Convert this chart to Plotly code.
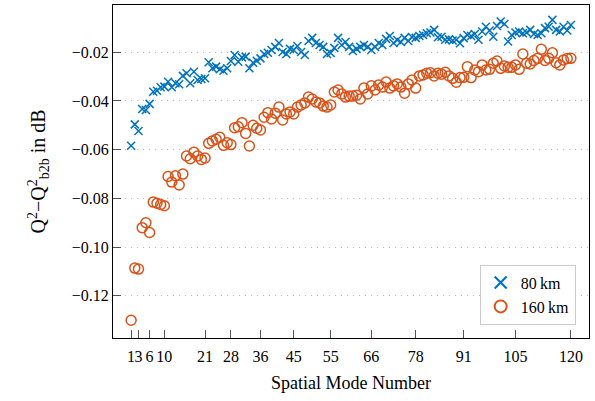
import plotly.graph_objects as go

modes = list(range(1, 121))

q_80km = [
    -0.0584, -0.0496, -0.0523, -0.0433, -0.0437, -0.0412, -0.0362, -0.0358, -0.0344, -0.0341,
    -0.0321, -0.0344, -0.0327, -0.0331, -0.0297, -0.0286, -0.0327, -0.0280, -0.0314, -0.0310,
    -0.0307, -0.0241, -0.0266, -0.0259, -0.0270, -0.0276, -0.0266, -0.0236, -0.0211, -0.0239,
    -0.0221, -0.0218, -0.0266, -0.0243, -0.0235, -0.0225, -0.0207, -0.0202, -0.0191, -0.0178,
    -0.0162, -0.0199, -0.0207, -0.0186, -0.0191, -0.0174, -0.0199, -0.0211, -0.0154, -0.0141,
    -0.0162, -0.0170, -0.0178, -0.0207, -0.0203, -0.0182, -0.0141, -0.0170, -0.0158, -0.0178,
    -0.0195, -0.0186, -0.0178, -0.0170, -0.0178, -0.0191, -0.0178, -0.0162, -0.0170, -0.0145,
    -0.0133, -0.0162, -0.0150, -0.0158, -0.0141, -0.0154, -0.0137, -0.0141, -0.0133, -0.0129,
    -0.0122, -0.0119, -0.0108, -0.0138, -0.0136, -0.0149, -0.0147, -0.0152, -0.0149, -0.0163,
    -0.0142, -0.0129, -0.0133, -0.0125, -0.0149, -0.0115, -0.0095, -0.0111, -0.0136, -0.0092,
    -0.0074, -0.0084, -0.0156, -0.0129, -0.0119, -0.0115, -0.0122, -0.0119, -0.0108, -0.0125,
    -0.0129, -0.0122, -0.0101, -0.0095, -0.0067, -0.0108, -0.0115, -0.0095, -0.0111, -0.0088,
]

q_160km = [
    -0.1300, -0.1086, -0.1090, -0.0920, -0.0900, -0.0940, -0.0815, -0.0820, -0.0825, -0.0830,
    -0.0710, -0.0733, -0.0707, -0.0745, -0.0700, -0.0626, -0.0637, -0.0610, -0.0626, -0.0640,
    -0.0634, -0.0574, -0.0564, -0.0557, -0.0549, -0.0582, -0.0571, -0.0579, -0.0510, -0.0506,
    -0.0489, -0.0533, -0.0585, -0.0500, -0.0512, -0.0519, -0.0467, -0.0448, -0.0474, -0.0450,
    -0.0425, -0.0478, -0.0453, -0.0445, -0.0453, -0.0425, -0.0416, -0.0408, -0.0384, -0.0392,
    -0.0404, -0.0408, -0.0421, -0.0425, -0.0416, -0.0363, -0.0355, -0.0371, -0.0384, -0.0380,
    -0.0380, -0.0376, -0.0392, -0.0347, -0.0371, -0.0338, -0.0355, -0.0334, -0.0343, -0.0322,
    -0.0347, -0.0338, -0.0330, -0.0343, -0.0368, -0.0330, -0.0314, -0.0347, -0.0297, -0.0293,
    -0.0286, -0.0284, -0.0297, -0.0286, -0.0290, -0.0282, -0.0297, -0.0307, -0.0323, -0.0304,
    -0.0303, -0.0259, -0.0304, -0.0273, -0.0280, -0.0252, -0.0273, -0.0270, -0.0245, -0.0236,
    -0.0266, -0.0256, -0.0262, -0.0262, -0.0252, -0.0270, -0.0207, -0.0245, -0.0248, -0.0234,
    -0.0225, -0.0188, -0.0234, -0.0225, -0.0202, -0.0243, -0.0252, -0.0232, -0.0226, -0.0225,
]

x_ticks = [1, 3, 6, 10, 21, 28, 36, 45, 55, 66, 78, 91, 105, 120]
y_ticks = [-0.12, -0.10, -0.08, -0.06, -0.04, -0.02]

BLUE = "#0072BD"
RED = "#D95319"
FONT = "Liberation Serif"

fig = go.Figure()
fig.add_trace(go.Scatter(
    x=modes, y=q_80km, mode="markers", name="80\u2009km",
    marker=dict(symbol="x-thin", size=8, color=BLUE, line=dict(color=BLUE, width=1.5)),
))
fig.add_trace(go.Scatter(
    x=modes, y=q_160km, mode="markers", name="160\u2009km",
    marker=dict(symbol="circle-open", size=10, color=RED, line=dict(color=RED, width=1.5)),
))

fig.update_layout(
    width=595, height=401,
    margin=dict(l=113, r=6, t=5, b=63, autoexpand=False),
    paper_bgcolor="white", plot_bgcolor="white",
    font=dict(family=FONT, size=16, color="black"),
    showlegend=True,
    legend=dict(
        x=0.972, y=0.04, xanchor="right", yanchor="bottom",
        bordercolor="#cccccc", borderwidth=1, bgcolor="white",
        font=dict(family=FONT, size=16),
        itemsizing="constant", itemwidth=30,
        tracegroupgap=4,
    ),
)
fig.update_xaxes(
    range=[-3.9, 124.9], tickvals=x_ticks, ticktext=[str(t) for t in x_ticks],
    tickangle=0, automargin=False, ticklabelstandoff=4,
    ticks="inside", ticklen=8, tickcolor="#555555", tickwidth=1,
    showline=True, linecolor="black", linewidth=1, mirror=True,
    showgrid=False, zeroline=False,
    title=dict(text="Spatial Mode Number", font=dict(family=FONT, size=18), standoff=12),
    tickfont=dict(family=FONT, size=16),
)
fig.update_yaxes(
    range=[-0.1373, -0.0006], tickvals=y_ticks, tickformat=".2f",
    automargin=False,
    ticks="inside", ticklen=8, tickcolor="#555555", tickwidth=1,
    showline=True, linecolor="black", linewidth=1, mirror=True,
    showgrid=True, gridcolor="#bbbbbb", griddash="1px,5px", gridwidth=1,
    zeroline=False,
    title=dict(text="Q<sup>2</sup>\u2212Q<sup>2</sup><sub>b2b</sub> in dB",
               font=dict(family=FONT, size=20), standoff=20),
    tickfont=dict(family=FONT, size=16),
)

fig.write_html("out.html", config={"displayModeBar": False},
               post_script="document.body.style.margin='0px';")
